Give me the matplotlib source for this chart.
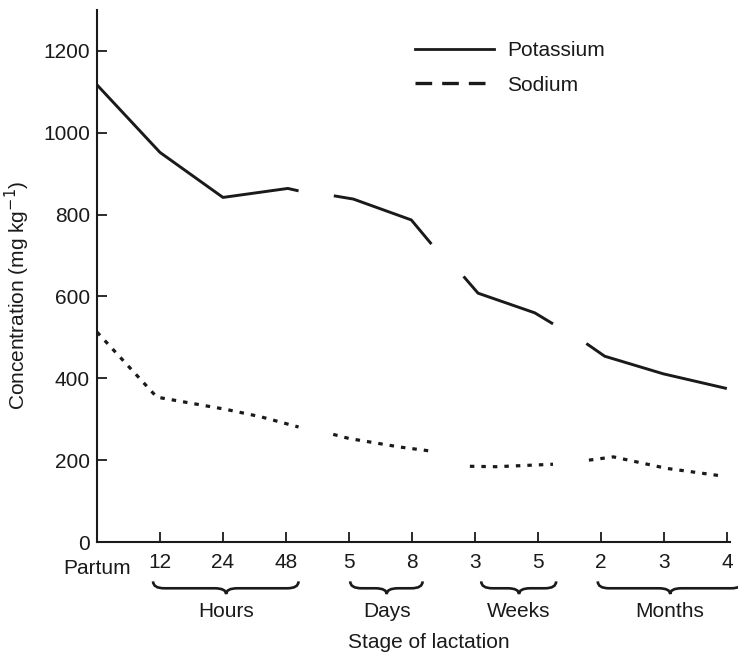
import matplotlib.pyplot as plt
import matplotlib.transforms as mtransforms
from matplotlib.path import Path
from matplotlib.patches import PathPatch
from matplotlib.lines import Line2D

plt.rcParams['font.family'] = ['Liberation Sans', 'DejaVu Sans']

# stage positions along x (0 = partum, then equally spaced stages)
stage_labels = ['Partum', '12', '24', '48', '5', '8', '3', '5', '2', '3', '4']
stage_pos = list(range(len(stage_labels)))

# potassium, drawn as broken segments
k_x = [[0, 1, 2, 3.03, 3.2], [3.76, 4.07, 4.99, 5.31], [5.82, 6.05, 6.95, 7.24], [7.77, 8.06, 8.99, 10]]
k_y = [[1117, 952, 842, 864, 858], [846, 838, 787, 728], [649, 608, 560, 533], [485, 454, 411, 375]]

# sodium
na_x = [[0, 0.95, 2.05, 2.6, 3.2], [3.75, 4.0, 4.81, 5.26], [5.92, 6.34, 7.24], [7.81, 8.2, 9.04, 9.94]]
na_y = [[513, 354, 324, 306, 281], [263, 253, 232, 223], [185, 184, 190], [200, 208, 180, 161]]

# brace groups: (start, centre, end, label)
groups = ['Hours', 'Days', 'Weeks', 'Months']
group_span = [(0.89, 2.05, 3.2), (4.02, 4.6, 5.17), (6.1, 6.7, 7.29), (7.95, 9.1, 10.25)]

ink = '#1a1a1a'
fig = plt.figure(figsize=(7.38, 6.56), dpi=100)
ax = fig.add_axes([97 / 738, 114 / 656, 633 / 738, 532 / 656])

for xs, ys in zip(k_x, k_y):
    ax.plot(xs, ys, color=ink, lw=2.1, solid_capstyle='butt')
for xs, ys in zip(na_x, na_y):
    ax.plot(xs, ys, color=ink, lw=2.3, linestyle=(0, (1.4, 2.2)))

ax.set_xlim(0, 10.05)
ax.set_ylim(0, 1300)
ax.set_yticks([0, 200, 400, 600, 800, 1000, 1200])
ax.set_xticks(stage_pos[1:])
ax.set_xticklabels(stage_labels[1:])
ax.tick_params(axis='both', direction='in', length=7, width=1.3, colors=ink, labelsize=15)
ax.tick_params(axis='x', pad=8)
ax.tick_params(axis='y', pad=5)
for s in ['top', 'right']:
    ax.spines[s].set_visible(False)
for s in ['left', 'bottom']:
    ax.spines[s].set_linewidth(1.5)
    ax.spines[s].set_color(ink)

trans = mtransforms.blended_transform_factory(ax.transData, ax.transAxes)
ax.text(stage_pos[0], -0.05, stage_labels[0], transform=trans, ha='center', va='center',
        fontsize=15, color=ink)

# curly braces under the stage groups
y_end, y_mid, y_tip = -0.074, -0.087, -0.098
r = 0.18
for (a, m, b), name in zip(group_span, groups):
    verts = [(a, y_end), (a, y_mid), (a + r, y_mid), (m - r, y_mid), (m, y_mid), (m, y_tip),
             (m, y_mid), (m + r, y_mid), (b - r, y_mid), (b, y_mid), (b, y_end)]
    codes = [Path.MOVETO, Path.CURVE3, Path.CURVE3, Path.LINETO, Path.CURVE3, Path.CURVE3,
             Path.CURVE3, Path.CURVE3, Path.LINETO, Path.CURVE3, Path.CURVE3]
    ax.add_patch(PathPatch(Path(verts, codes), fill=False, lw=1.9, ec=ink,
                           transform=trans, clip_on=False))
    ax.text(m, -0.131, name, transform=trans, ha='center', va='center', fontsize=15, color=ink)

fig.text(429 / 738, 1 - 643 / 656, 'Stage of lactation', ha='center', va='center',
         fontsize=15, color=ink)
fig.text(17.5 / 738, 1 - 295 / 656, 'Concentration (mg kg$^{-1}$)', rotation=90,
         ha='center', va='center', fontsize=15, color=ink)

handles = [Line2D([], [], color=ink, lw=2.0),
           Line2D([], [], color=ink, lw=2.4, linestyle=(0, (5.0, 3.0)))]
ax.legend(handles, ['Potassium', 'Sodium'], frameon=False, loc='upper left',
          bbox_to_anchor=(415 / 738, 1 - 41 / 656), bbox_transform=fig.transFigure,
          borderpad=0, borderaxespad=0, handlelength=3.8, handletextpad=0.62,
          labelspacing=0.75, fontsize=15, labelcolor=ink)

plt.savefig('out.png', dpi=100)
